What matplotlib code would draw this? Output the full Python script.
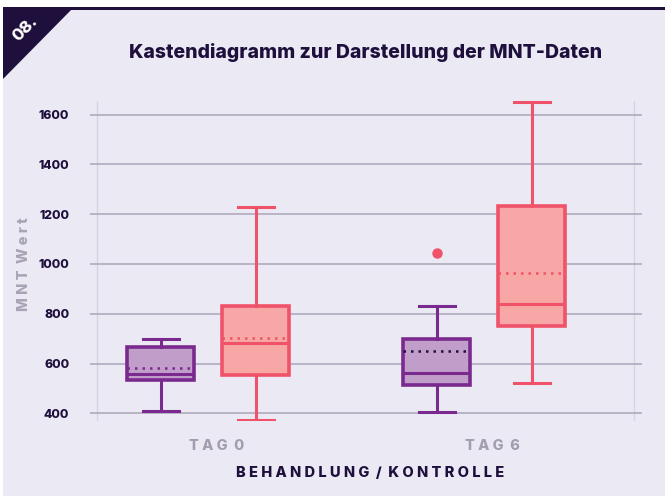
import matplotlib
matplotlib.use("Agg")
from matplotlib import pyplot as plt
from matplotlib.patches import Polygon, Rectangle
import numpy as np

# data
groups = ["TAG 0", "TAG 6"]
series = ["Behandlung", "Kontrolle"]
whislo = [[408, 372], [407, 522]]
q1 = [[533, 555], [515, 751]]
med = [[559, 684], [562, 838]]
mean = [[581, 704], [650, 963]]
q3 = [[668, 831], [700, 1233]]
whishi = [[697, 1228], [831, 1650]]
fliers = [[[], []], [[1044], []]]
yticks = [400, 600, 800, 1000, 1200, 1400, 1600]

bg = "#EBEAF4"
dark = "#1E0F3C"
grid_c = "#ABA5B8"
purple_edge = "#7A2A8E"
purple_face = "#C19DC9"
red_edge = "#F0526A"
red_face = "#F7A7A5"

plt.rcParams["font.family"] = ["Inter", "DejaVu Sans"]

fig = plt.figure(figsize=(6.65, 4.96), dpi=100)
fig.patch.set_facecolor("white")

# background panel, top border and corner badge
fig.patches.append(Rectangle((3 / 665, 0), 662 / 665, 1 - 10 / 496, zorder=-5,
                             transform=fig.transFigure, facecolor=bg, edgecolor="none"))
fig.patches.append(Rectangle((3 / 665, 1 - 10 / 496), 662 / 665, 3 / 496, zorder=-5,
                             transform=fig.transFigure, facecolor=dark, edgecolor="none"))
fig.patches.append(Polygon([(3 / 665, 1 - 7 / 496), (74 / 665, 1 - 7 / 496), (3 / 665, 1 - 79 / 496)],
                           closed=True, transform=fig.transFigure, facecolor=dark, edgecolor="none",
                           zorder=-4))
fig.text(25 / 665, 1 - 29 / 496, "08.", color="white", fontsize=12, fontweight="heavy",
         rotation=45, ha="center", va="center")

fig.text(366 / 665, 1 - 52 / 496, "Kastendiagramm zur Darstellung der MNT-Daten",
         color=dark, fontsize=14, fontweight="heavy", ha="center", va="center")

ax = fig.add_axes([90 / 665, 1 - 421 / 496, 552 / 665, 320 / 496])
ax.set_facecolor("none")
for s in ax.spines.values():
    s.set_visible(False)

pos = np.arange(len(groups))
offsets = [-0.172, 0.172]
styles = [(purple_edge, purple_face), (red_edge, red_face)]
mean_colors = [[purple_edge, red_edge], ["#1E0F3C", red_edge]]

for gi in range(len(groups)):
    for si in range(len(series)):
        ec, fc = styles[si]
        st = [dict(whislo=whislo[gi][si], q1=q1[gi][si], med=med[gi][si], mean=mean[gi][si],
                   q3=q3[gi][si], whishi=whishi[gi][si], fliers=fliers[gi][si])]
        ax.bxp(st, positions=[pos[gi] + offsets[si]], widths=0.245, patch_artist=True,
               showmeans=True, meanline=True, showcaps=True, showfliers=True,
               boxprops=dict(facecolor=fc, edgecolor=ec, linewidth=2.6),
               medianprops=dict(color=ec, linewidth=2.2),
               meanprops=dict(color=mean_colors[gi][si], linewidth=1.8, linestyle=(0, (1, 2))),
               whiskerprops=dict(color=ec, linewidth=2.2),
               capprops=dict(color=ec, linewidth=2.2),
               capwidths=0.13,
               flierprops=dict(marker="o", markerfacecolor=red_edge, markeredgecolor=red_edge,
                               markersize=6.5),
               manage_ticks=False, zorder=3)

ax.set_xlim(-0.428, 1.572)
ax.set_ylim(369, 1655)
ax.axvline(-0.402, color="#D6D3E3", linewidth=1, zorder=0)
ax.axvline(1.543, color="#D6D3E3", linewidth=1, zorder=0)
for y in yticks:
    ax.axhline(y, color=grid_c, linewidth=1.1, zorder=1)

ax.set_yticks(yticks)
ax.set_yticklabels([str(v) for v in yticks], color=dark, fontsize=8.8, fontweight="heavy")
ax.tick_params(axis="y", length=0, pad=15)
ax.set_xticks(pos + 0.03)
ax.set_xticklabels(["T A G  0", "T A G  6"], color="#A39DAF", fontsize=10.5, fontweight="heavy")
ax.tick_params(axis="x", length=0, pad=13)

ax.set_ylabel("M N T  W e r t", color="#A9A3B5", fontsize=10.5, fontweight="heavy")
ax.set_xlabel("B E H A N D L U N G  /  K O N T R O L L E", color=dark, fontsize=10.5,
              fontweight="heavy")
ax.xaxis.set_label_coords((370 - 90) / 552, -(466 - 421) / 320)
ax.yaxis.set_label_coords(-(90 - 31) / 552, (421 - 264) / 320)

fig.savefig("out.png", dpi=100, facecolor=fig.get_facecolor())
